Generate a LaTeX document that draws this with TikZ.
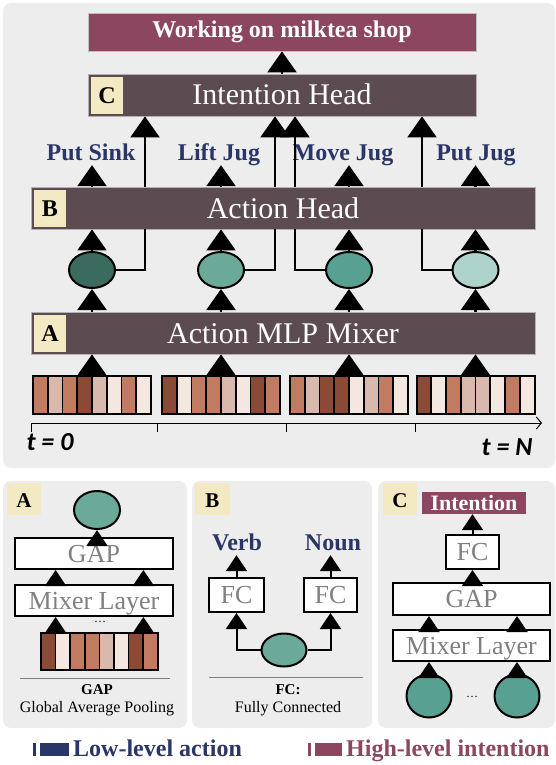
\documentclass[tikz,border=0pt]{standalone}
\usepackage{fontspec}
\setmainfont{Liberation Serif}
\newfontfamily\calfont{Carlito}
\usetikzlibrary{positioning, shapes.geometric, arrows.meta}
\definecolor{panel}{HTML}{EDEDED}
\definecolor{headfill}{HTML}{5D4B52}
\definecolor{intent}{HTML}{8C4660}
\definecolor{cream}{HTML}{F3EAC4}
\definecolor{navy}{HTML}{2B3668}
\definecolor{tok1}{HTML}{8B4A35}
\definecolor{tok2}{HTML}{C17B61}
\definecolor{tok3}{HTML}{D9B9AD}
\definecolor{tok4}{HTML}{F4E7E0}
\definecolor{emb1}{HTML}{3B6B5E}
\definecolor{emb2}{HTML}{6BAA98}
\definecolor{emb3}{HTML}{58A092}
\definecolor{emb4}{HTML}{AED3CB}

\begin{document}
\begin{tikzpicture}[x=1pt, y=-1pt]
    \tikzset{
      head/.style={fill=headfill, draw=gray!60, line width=0.8pt, text=white, minimum height=42pt, inner sep=0pt,
        text height=20pt, text depth=0pt, font=\fontsize{30}{32}\selectfont},
      tag/.style={fill=cream, minimum width=32pt, minimum height=37pt, inner sep=0pt,
        text height=16pt, text depth=0pt, font=\fontsize{24}{26}\selectfont\bfseries},
      act/.style={text=navy, inner sep=0pt, text height=17pt, text depth=5pt, font=\fontsize{24}{26}\selectfont\bfseries},
      emb/.style={ellipse, draw, line width=2pt, minimum width=46pt, minimum height=36pt, inner sep=0pt},
      arr/.style={line width=2.2pt, -{Triangle[width=29pt,length=21pt]}},
      link/.style={line width=2.2pt},
      tokbar/.style={draw, line width=2pt, minimum width=118pt, minimum height=38pt, inner sep=0pt},
      layer/.style={fill=white, draw, line width=2pt, text=gray, inner sep=0pt,
        text height=17pt, text depth=0pt, font=\fontsize{26}{28}\selectfont},
      sarr/.style={line width=2pt, -{Triangle[width=21pt,length=16pt]}},
      note/.style={inner sep=0pt, font=\fontsize{16}{18}\selectfont},
      tsym/.style={inner sep=0pt, font=\calfont\fontsize{26}{28}\selectfont\bfseries\itshape}
    }
    \useasboundingbox (0,0) rectangle (556,765);

    \fill[panel, rounded corners=8pt] (3,3) rectangle (555,468);
    \fill[panel, rounded corners=8pt] (3,481) rectangle (187,728);
    \fill[panel, rounded corners=8pt] (192,481) rectangle (372,728);
    \fill[panel, rounded corners=8pt] (378,481) rectangle (555,728);

    \node[fill=intent, draw=gray!50, line width=0.8pt, minimum width=388pt, minimum height=38pt, text=white,
      font=\fontsize{24}{26}\selectfont\bfseries] (milktea) at (282,32) {Working on milktea shop};
    \node[head, minimum width=388pt] (intention)  at (282,95)  {Intention Head};
    \node[tag]                       (tagc)       at (107,95.5) {C};
    \node[head, minimum width=504pt] (actionhead) at (283,208) {Action Head};
    \node[tag]                       (tagb)       at (50,208)  {B};
    \node[head, minimum width=504pt] (mixer)      at (283,333) {Action MLP Mixer};
    \node[tag]                       (taga)       at (50,333)  {A};

    \node[act] (putsink) at (91,154)  {Put Sink};
    \node[act] (liftjug) at (219,154) {Lift Jug};
    \node[act] (movejug) at (343,154) {Move Jug};
    \node[act] (putjug)  at (476,154) {Put Jug};

    \node[emb, fill=emb1] (obs1) at (92,270)    {};
    \node[emb, fill=emb2] (obs2) at (221,270)   {};
    \node[emb, fill=emb3] (obs3) at (349,270)   {};
    \node[emb, fill=emb4] (obs4) at (475.5,270) {};

    \foreach \cx/\pat [count=\n] in {92/{2,3,2,1,3,4,2,4}, 221/{1,4,2,2,3,4,1,2},
                                     349/{2,3,1,1,4,3,2,4}, 475.5/{1,4,2,3,3,4,2,4}} {
      \foreach \c [count=\i from 0] in \pat
        \draw[fill=tok\c, line width=1.6pt] (\cx-59+\i*14.75,376) rectangle ++(14.75,38);
      \node[tokbar] (clip\n) at (\cx,395) {};
      \draw[arr] (clip\n.north) -- (clip\n |- mixer.south);
      \draw[arr] (obs\n |- mixer.north) -- (obs\n.south);
      \draw[arr] (obs\n.north) -- (obs\n |- actionhead.south);
    }
    \draw[arr] (obs1 |- actionhead.north) -- (obs1 |- putsink.south);
    \draw[arr] (obs2 |- actionhead.north) -- (obs2 |- liftjug.south);
    \draw[arr] (obs3 |- actionhead.north) -- (obs3 |- movejug.south);
    \draw[arr] (obs4 |- actionhead.north) -- (obs4 |- putjug.south);

    \coordinate (k1) at (145,270);
    \coordinate (k2) at (275,270);
    \coordinate (k3) at (295,270);
    \coordinate (k4) at (422,270);
    \draw[link] (obs1.east) -- (k1) -- (k1 |- actionhead.south);
    \draw[link] (obs2.east) -- (k2) -- (k2 |- actionhead.south);
    \draw[link] (obs3.west) -- (k3) -- (k3 |- actionhead.south);
    \draw[link] (obs4.west) -- (k4) -- (k4 |- actionhead.south);
    \foreach \k in {k1,k2,k3,k4}
      \draw[arr] (\k |- actionhead.north) -- (\k |- intention.south);
    \draw[arr] (intention.north) -- (milktea.south);

    \draw[line width=1pt, -{Straight Barb[length=5pt,width=12pt]}] (31,432) -- (31,423) -- (542,423);
    \foreach \tx in {157,286,415}
      \draw[line width=1pt] (\tx,423) -- (\tx,432);
    \node[tsym] (tzero) at (50,442) {t = 0};
    \node[tsym] (tend)  at (507,447) {t = N};

    % panel A
    \node[tag, minimum width=34pt, minimum height=32pt, font=\fontsize{21}{23}\selectfont\bfseries] (tagpa) at (24,499) {A};
    \node[emb, fill=emb2, minimum height=38pt]      (pooled) at (97,510)    {};
    \node[layer, minimum width=158pt, minimum height=31pt] (gapa) at (94,553.5) {GAP};
    \node[layer, minimum width=158pt, minimum height=31pt] (mixa) at (94,600.5) {Mixer Layer};
    \foreach \c [count=\i from 0] in {1,4,2,2,3,4,1,2}
      \draw[fill=tok\c, line width=1.6pt] (41+\i*14.6,633) rectangle ++(14.6,37);
    \node[tokbar, minimum width=117pt, minimum height=37pt] (clipa) at (99.5,651.5) {};
    \node[inner sep=0pt, font=\fontsize{12}{12}\selectfont] (dotsa) at (100,622) {\dots};
    \coordinate (ina) at (55.6,633);
    \coordinate (inb) at (143.4,633);
    \foreach \p in {ina,inb} {
      \draw[sarr] (\p) -- (\p |- mixa.south);
      \draw[sarr] (\p |- mixa.north) -- (\p |- gapa.south);
    }
    \draw[sarr] (gapa.north -| pooled) -- (pooled.south);
    \draw[gray, line width=1pt] (20,678) -- (170,678);
    \node[note, font=\fontsize{15}{17}\selectfont\bfseries] (gapname) at (97,690) {GAP};
    \node[note] (gapdesc) at (97,709) {Global Average Pooling};

    % panel B
    \node[tag, minimum width=35pt, minimum height=32pt, font=\fontsize{21}{23}\selectfont\bfseries] (tagpb) at (212.5,499) {B};
    \node[act] (verb) at (237,544) {Verb};
    \node[act] (noun) at (333,544) {Noun};
    \node[layer, minimum width=55pt, minimum height=34pt] (fcverb) at (236.5,595) {FC};
    \node[layer, minimum width=53pt, minimum height=34pt] (fcnoun) at (330.5,595) {FC};
    \node[emb, fill=emb2, minimum width=45pt, minimum height=33pt] (pairemb) at (284,650) {};
    \draw[sarr] (pairemb.west) -| (fcverb.south);
    \draw[sarr] (pairemb.east) -| (fcnoun.south);
    \draw[sarr] (fcverb.north) -- (verb.south -| fcverb);
    \draw[sarr] (fcnoun.north) -- (noun.south -| fcnoun);
    \draw[gray, line width=1pt] (209,677) -- (363,677);
    \node[note, font=\fontsize{15}{17}\selectfont\bfseries] (fcname) at (288,690) {FC:};
    \node[note] (fcdesc) at (288,709) {Fully Connected};

    % panel C
    \node[tag, minimum width=34pt, minimum height=32pt, font=\fontsize{21}{23}\selectfont\bfseries] (tagpc) at (400,499) {C};
    \node[fill=intent, text=white, minimum width=104pt, minimum height=22pt, inner sep=0pt,
      font=\fontsize{22}{24}\selectfont\bfseries] (intentout) at (474,503) {Intention};
    \node[layer, minimum width=53pt, minimum height=34pt]  (fcc)  at (472.5,552) {FC};
    \node[layer, minimum width=157pt, minimum height=32pt] (gapc) at (471.5,599) {GAP};
    \node[layer, minimum width=157pt, minimum height=31pt] (mixc) at (471.5,645.5) {Mixer Layer};
    \node[emb, fill=emb3, minimum width=45pt, minimum height=43pt] (stepa) at (429,696) {};
    \node[emb, fill=emb3, minimum width=45pt, minimum height=43pt] (stepb) at (517,696) {};
    \node[inner sep=0pt, font=\fontsize{12}{12}\selectfont] (dotsc) at (472,697) {\dots};
    \foreach \s in {stepa,stepb} {
      \draw[sarr] (\s.north) -- (\s |- mixc.south);
      \draw[sarr] (\s |- mixc.north) -- (\s |- gapc.south);
    }
    \draw[sarr] (gapc.north -| fcc) -- (fcc.south);
    \draw[sarr] (fcc.north) -- (fcc |- intentout.south);

    % legend
    \fill[navy] (33,743) rectangle (36,756);
    \fill[navy] (40,743) rectangle (69,756);
    \node[act, anchor=west] (lowlevel) at (73,750) {Low-level action};
    \fill[intent] (308,743) rectangle (311,756);
    \fill[intent] (315,743) rectangle (342,756);
    \node[act, text=intent, anchor=west] (highlevel) at (346,750) {High-level intention};
\end{tikzpicture}
\end{document}
